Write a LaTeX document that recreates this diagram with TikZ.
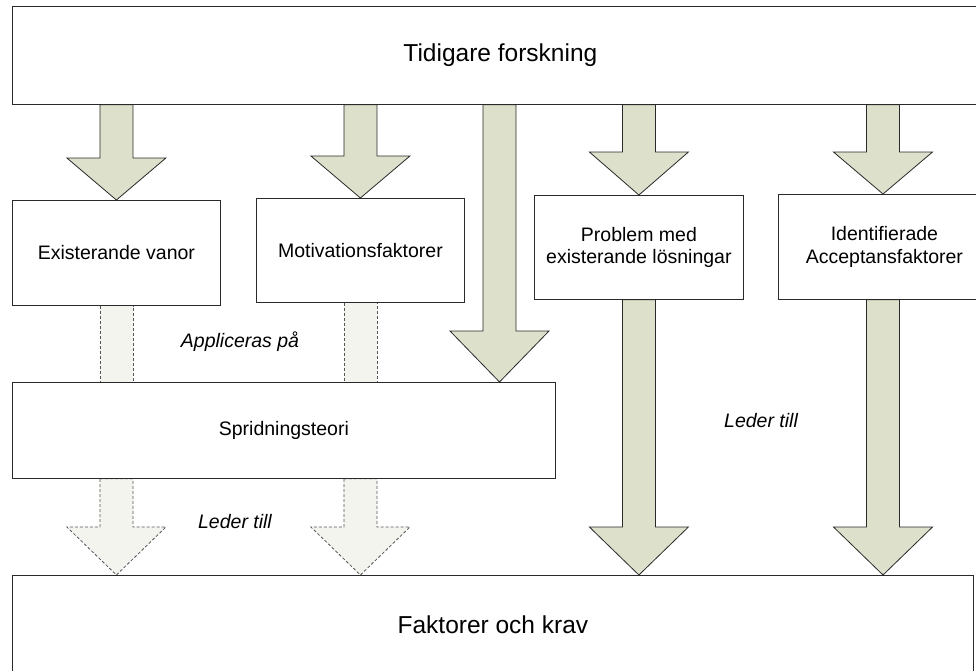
\documentclass[tikz,border=0pt]{standalone}
\usepackage{fontspec}
\setmainfont{Liberation Sans}
\usetikzlibrary{calc}
\pgfdeclarelayer{bg}
\pgfsetlayers{bg,main}

\definecolor{arrfill}{HTML}{DDE0CB}
\definecolor{dashfill}{HTML}{F3F4EE}
\definecolor{edge}{HTML}{2A2A2A}

% block arrow: #1 style, #2 start (its y is used), #3 tip, #4 head length
\newcommand\blockarr[4]{%
  \path[#1] let \p1=#2, \p2=#3 in
    (\x2-16.5pt,\y1) -- (\x2+16.5pt,\y1) -- (\x2+16.5pt,\y2+#4) --
    (\x2+49.5pt,\y2+#4) -- (\x2,\y2) -- (\x2-49.5pt,\y2+#4) --
    (\x2-16.5pt,\y2+#4) -- cycle;}
% dashed shaft without head: #1 start, #2 end
\newcommand\dashshaft[2]{%
  \path[dashbody] let \p1=#1, \p2=#2 in
    (\x1-16.5pt,\y1) rectangle (\x1+16.5pt,\y2);}

\tikzset{
  box/.style={draw=edge, line width=0.8pt, fill=white, anchor=north west,
    inner sep=0pt, align=center, font=\fontsize{19.5}{22.4}\selectfont},
  bigbox/.style={box, font=\fontsize{24.5}{28}\selectfont},
  solidbody/.style={draw=edge, line width=0.8pt, fill=arrfill, line join=miter},
  dashbody/.style={draw=edge!80, line width=0.8pt, fill=dashfill,
    dash pattern=on 3pt off 2pt},
  lbl/.style={font=\fontsize{19.5}{22.4}\selectfont\itshape, inner sep=0pt}
}

\begin{document}
\begin{tikzpicture}[x=1pt,y=1pt]
\useasboundingbox (0,0) rectangle (976,-670);

% boxes
\node[bigbox, minimum width=976pt, minimum height=98pt] (tf) at (12,-6) {Tidigare forskning};
\node[box, minimum width=208pt, minimum height=105pt] (ev) at (12,-200) {Existerande vanor};
\node[box, minimum width=208pt, minimum height=104pt] (mf) at (256,-198) {Motivationsfaktorer};
\node[box, minimum width=209pt, minimum height=104pt] (pm) at (534,-195) {Problem med\\existerande lösningar};
\node[box, minimum width=212pt, minimum height=105pt] (ia) at (778,-194) {Identifierade\\Acceptansfaktorer};
\node[box, minimum width=543pt, minimum height=96pt] (sp) at (12,-382) {Spridningsteori};
\node[bigbox, minimum width=961pt, minimum height=98pt] (fk) at (12,-575) {Faktorer och krav};

% labels
\node[lbl] (ap) at (240,-342) {Appliceras på};
\node[lbl] (l1) at (235,-522) {Leder till};
\node[lbl] (l2) at (761,-421) {Leder till};

% x positions of the free arrows
\coordinate (lx) at (499.5,-104);
\coordinate (ix) at (883,-299);

\begin{pgfonlayer}{bg}
  % from the top box
  \blockarr{solidbody}{(tf.south)}{(ev.north)}{42pt}
  \blockarr{solidbody}{(tf.south)}{(mf.north)}{42pt}
  \blockarr{solidbody}{(tf.south)}{(lx |- sp.north)}{51pt}
  \blockarr{solidbody}{(tf.south)}{(pm.north)}{43pt}
  \blockarr{solidbody}{(tf.south)}{(ix |- ia.north)}{42pt}
  % into the bottom box
  \blockarr{solidbody}{(pm.south)}{(pm.south |- fk.north)}{48pt}
  \blockarr{solidbody}{(ia.south)}{(ix |- fk.north)}{48pt}
  % dashed links through Spridningsteori
  \dashshaft{(ev.south)}{(sp.north)}
  \dashshaft{(mf.south)}{(sp.north)}
  \blockarr{dashbody}{(sp.south)}{(ev.south |- fk.north)}{48pt}
  \blockarr{dashbody}{(sp.south)}{(mf.south |- fk.north)}{48pt}
\end{pgfonlayer}
\end{tikzpicture}
\end{document}
